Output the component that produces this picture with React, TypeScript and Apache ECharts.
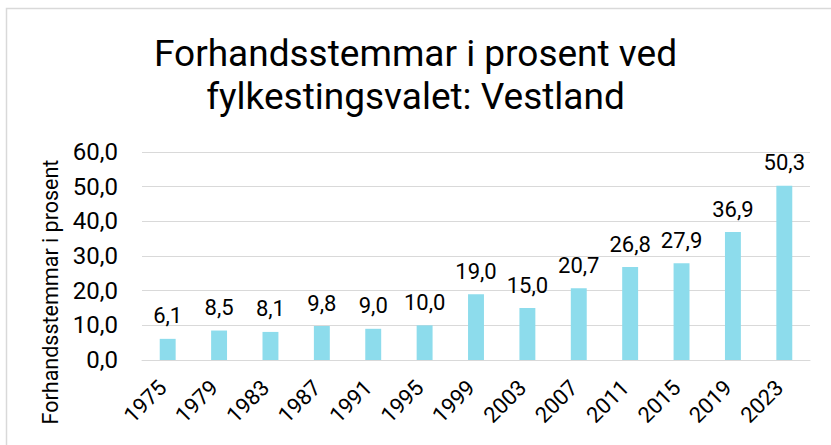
import React, { useEffect, useRef } from "react";
import * as echarts from "echarts";

const years = ["1975", "1979", "1983", "1987", "1991", "1995", "1999", "2003", "2007", "2011", "2015", "2019", "2023"];
const values = [6.1, 8.5, 8.1, 9.8, 9.0, 10.0, 19.0, 15.0, 20.7, 26.8, 27.9, 36.9, 50.3];
const titleText = "Forhandsstemmar i prosent ved\nfylkestingsvalet: Vestland";
const yAxisName = "Forhandsstemmar i prosent";

const fmt = (v: number) => v.toFixed(1).replace(".", ",");

export default function App() {
  const ref = useRef<HTMLDivElement>(null);
  useEffect(() => {
    if (!ref.current) return;
    const chart = echarts.init(ref.current, undefined, { renderer: "svg" });
    chart.setOption({
      animation: false,
      backgroundColor: "#fff",
      textStyle: { fontFamily: "Roboto" },
      graphic: [
        {
          type: "rect",
          shape: { x: 6.5, y: 8.5, width: 900, height: 600 },
          style: { fill: "none", stroke: "#d9d9d9", lineWidth: 1.5 },
          silent: true,
        },
      ],
      title: {
        text: titleText,
        left: "center",
        top: 27,
        textStyle: {
          fontFamily: "Roboto",
          fontSize: 37,
          fontWeight: "normal",
          color: "#000",
          lineHeight: 43,
        },
      },
      grid: { left: 142, right: 21, top: 152, bottom: 85 },
      xAxis: {
        type: "category",
        data: years,
        axisTick: { show: false },
        axisLine: { lineStyle: { color: "#d9d9d9", width: 1 } },
        axisLabel: {
          rotate: 45,
          fontSize: 22,
          color: "#000",
          fontFamily: "Roboto",
          margin: 19,
          padding: [0, 7, 0, 0],
          interval: 0,
        },
      },
      yAxis: {
        type: "value",
        min: 0,
        max: 60,
        interval: 10,
        name: yAxisName,
        nameLocation: "middle",
        nameGap: 74,
        nameRotate: 90,
        nameTextStyle: {
          fontSize: 21.5,
          color: "#000",
          fontFamily: "Roboto",
          padding: [0, 72, 0, 0],
        },
        axisLine: { show: false },
        axisTick: { show: false },
        splitLine: { lineStyle: { color: "#d9d9d9", width: 1 } },
        axisLabel: {
          fontSize: 24,
          color: "#000",
          fontFamily: "Roboto",
          margin: 24,
          formatter: (v: number) => fmt(v),
        },
      },
      series: [
        {
          type: "bar",
          data: values,
          barWidth: "31%",
          itemStyle: { color: "#8ddcec" },
          label: {
            show: true,
            position: "top",
            distance: 12,
            fontSize: 22,
            color: "#000",
            fontFamily: "Roboto",
            formatter: (p: any) => fmt(p.value),
          },
        },
      ],
    });
    return () => chart.dispose();
  }, []);
  return (
    <div
      ref={ref}
      style={{ position: "fixed", left: 0, top: 0, width: 831, height: 445 }}
    />
  );
}
